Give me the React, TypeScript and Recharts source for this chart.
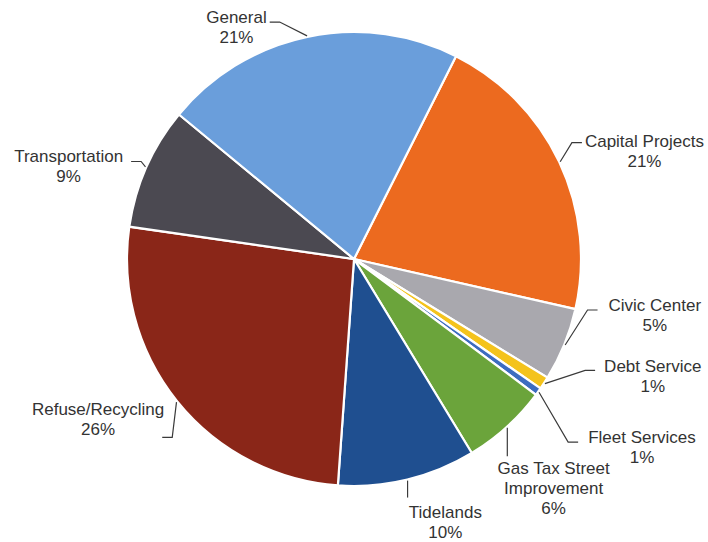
import { PieChart, Pie, Cell } from "recharts";

const categories = [
  "Capital Projects",
  "Civic Center",
  "Debt Service",
  "Fleet Services",
  "Gas Tax Street Improvement",
  "Tidelands",
  "Refuse/Recycling",
  "Transportation",
  "General",
];
const shares = [21.1, 5.2, 0.9, 0.55, 6.1, 9.8, 26.1, 8.7, 21.4];
const colors = [
  "#ec6a1f",
  "#a9a8ae",
  "#f4c31c",
  "#3d6cc0",
  "#6ba43b",
  "#1f4f90",
  "#8a2618",
  "#4b4951",
  "#6a9edb",
];

// label placement: turn (deg, clockwise from slice middle), distance from centre,
// which side of the text the leader attaches to, vertical attach offset
type Place = { turn: number; dist: number; side: "left" | "right" | "top"; dy: number; gap: number };
const placement: Place[] = [
  { turn: 4.8, dist: 310, side: "left", dy: -8, gap: 3 },
  { turn: -11.6, dist: 306, side: "left", dy: -5, gap: 11 },
  { turn: -11.7, dist: 321, side: "left", dy: -6, gap: 9 },
  { turn: -2.6, dist: 344, side: "left", dy: -5, gap: 10 },
  { turn: 1.2, dist: 304, side: "top", dy: 0, gap: 4 },
  { turn: -5.6, dist: 278, side: "top", dy: 0, gap: 6 },
  { turn: 6.8, dist: 302, side: "right", dy: 18, gap: -2 },
  { turn: -5.9, dist: 300, side: "right", dy: -5, gap: 8 },
  { turn: -15, dist: 260, side: "right", dy: -5, gap: 3 },
];

const data = categories.map((name, i) => ({ name, value: shares[i] }));

const FONT = "17px 'Liberation Sans', Arial, sans-serif";
const LINE = 20;
const RAD = Math.PI / 180;

let ctx: CanvasRenderingContext2D | null = null;
function textWidth(s: string) {
  if (!ctx) ctx = document.createElement("canvas").getContext("2d");
  if (!ctx) return s.length * 8;
  ctx.font = FONT;
  return ctx.measureText(s).width;
}

function wrap(name: string): string[] {
  if (name.length <= 18) return [name];
  const cut = name.lastIndexOf(" ");
  return [name.slice(0, cut), name.slice(cut + 1)];
}

function polar(cx: number, cy: number, r: number, angle: number) {
  return { x: cx + r * Math.cos(-angle * RAD), y: cy + r * Math.sin(-angle * RAD) };
}

function renderLabel(props: any) {
  const { cx, cy, midAngle, outerRadius, percent, name, index } = props;
  const p = placement[index];
  const lines = [...wrap(name), `${Math.round(percent * 100)}%`];
  const c = polar(cx, cy, p.dist, midAngle - p.turn);
  const arc = polar(cx, cy, outerRadius + 1, midAngle);
  const firstY = c.y - ((lines.length - 1) * LINE) / 2;
  const half = Math.max(...lines.map(textWidth)) / 2;

  let d: string;
  if (p.side === "top") {
    const top = firstY - LINE / 2 + 2 - p.gap;
    d = `M${arc.x},${arc.y}L${arc.x},${top}`;
  } else {
    const ay = c.y + p.dy;
    const endX = p.side === "left" ? c.x - half - p.gap : c.x + half + p.gap;
    const elbowX = p.side === "left" ? endX - 10 : endX + 10;
    d = `M${arc.x},${arc.y}L${elbowX},${ay}L${endX},${ay}`;
  }

  return (
    <g key={`lbl-${index}`}>
      <path d={d} stroke="#3a3a3a" strokeWidth={1.2} fill="none" />
      <text x={c.x} y={firstY} textAnchor="middle" fill="#333" style={{ font: FONT }}>
        {lines.map((ln, i) => (
          <tspan key={i} x={c.x} y={firstY + i * LINE + 6}>
            {ln}
          </tspan>
        ))}
      </text>
    </g>
  );
}

export default function App() {
  return (
    <div style={{ position: "absolute", left: 0, top: 0, background: "#fff" }}>
      <PieChart width={708} height={542} margin={{ top: 0, right: 0, bottom: 0, left: 0 }}>
        <Pie
          data={data}
          dataKey="value"
          nameKey="name"
          cx={354}
          cy={259}
          outerRadius={227}
          startAngle={63.3}
          endAngle={-296.7}
          stroke="#fff"
          strokeWidth={2.2}
          label={renderLabel}
          labelLine={false}
          isAnimationActive={false}
        >
          {data.map((d, i) => (
            <Cell key={d.name} fill={colors[i]} />
          ))}
        </Pie>
      </PieChart>
    </div>
  );
}
